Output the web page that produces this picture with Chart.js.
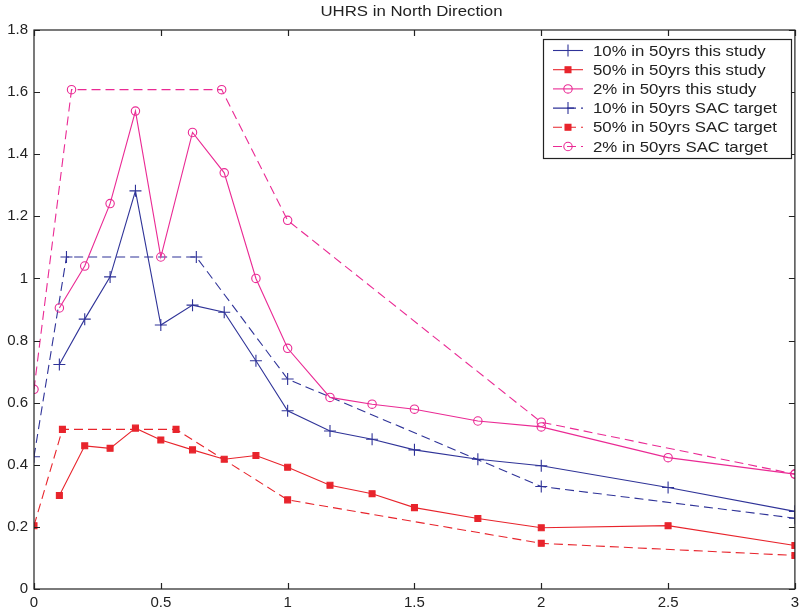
<!DOCTYPE html>
<html>
<head>
<meta charset="utf-8">
<script src="https://cdn.jsdelivr.net/npm/chart.js@4/dist/chart.umd.min.js"></script>
<style>
  html, body { margin: 0; padding: 0; background: #fff; }
  #wrap { width: 802px; height: 612px; }
</style>
</head>
<body>
<div id="wrap"><canvas id="c"></canvas></div>
<script>
// periods (s) and spectral accelerations (g)
const periodStudy = [0.1, 0.2, 0.3, 0.4, 0.5, 0.625, 0.75, 0.875, 1.0, 1.167, 1.333, 1.5, 1.75, 2.0, 2.5, 3.0];
const study10 = [0.723, 0.869, 1.005, 1.282, 0.850, 0.914, 0.891, 0.735, 0.574, 0.509, 0.482, 0.448, 0.418, 0.397, 0.327, 0.250];
const study50 = [0.301, 0.461, 0.453, 0.518, 0.480, 0.448, 0.418, 0.430, 0.392, 0.334, 0.307, 0.262, 0.227, 0.197, 0.204, 0.140];
const study2  = [0.905, 1.040, 1.241, 1.539, 1.069, 1.470, 1.340, 1.000, 0.775, 0.617, 0.595, 0.579, 0.541, 0.522, 0.423, 0.370];

const periodSac10 = [0, 0.128, 0.64, 1, 2, 3];
const sac10 = [0.426, 1.069, 1.069, 0.676, 0.330, 0.228];
const periodSac50 = [0, 0.112, 0.56, 1, 2, 3];
const sac50 = [0.204, 0.514, 0.514, 0.287, 0.147, 0.108];
const periodSac2 = [0, 0.148, 0.74, 1, 2, 3];
const sac2 = [0.643, 1.608, 1.608, 1.187, 0.537, 0.370];

const labels = [
  '10% in 50yrs this study', '50% in 50yrs this study', '2% in 50yrs this study',
  '10% in 50yrs SAC target', '50% in 50yrs SAC target', '2% in 50yrs SAC target'
];
const xTicks = [0, 0.5, 1, 1.5, 2, 2.5, 3];
const yTicks = [0, 0.2, 0.4, 0.6, 0.8, 1, 1.2, 1.4, 1.6, 1.8];

const BLUE = '#2f3398';
const RED = '#e8242c';
const PINK = '#ea2a94';
const FONT = '"Liberation Sans", Arial, sans-serif';

const pts = (xs, ys) => xs.map((x, i) => ({ x: x, y: ys[i] }));

function series(label, xs, ys, color, style, dashed) {
  return {
    label: label,
    data: pts(xs, ys),
    borderColor: color,
    borderWidth: 1.1,
    borderDash: dashed ? [9, 5] : [],
    pointStyle: style,
    pointBorderColor: color,
    pointBorderWidth: 1.1,
    pointBackgroundColor: style === 'rect' ? color : 'rgba(0,0,0,0)',
    pointRadius: style === 'cross' ? 6 : 4.2,
    pointHoverRadius: 0,
    tension: 0,
    fill: false
  };
}

// text a bit wider than the stock font, like the original export
function wideText(ctx, text, x, y, align) {
  const k = 1.12;
  ctx.save();
  ctx.translate(x, y);
  ctx.scale(k, 1);
  ctx.textAlign = align;
  ctx.fillText(text, 0, 0);
  ctx.restore();
}

// frame, inward ticks, title, boxed legend
const matlabLook = {
  id: 'matlabLook',
  afterDraw(chart) {
    const ctx = chart.ctx;
    const a = chart.chartArea;
    const sx = chart.scales.x, sy = chart.scales.y;
    ctx.save();
    ctx.strokeStyle = '#222';
    ctx.lineWidth = 1.2;
    ctx.setLineDash([]);
    ctx.strokeRect(a.left, a.top, a.right - a.left, a.bottom - a.top);
    ctx.beginPath();
    xTicks.forEach(v => {
      const px = Math.round(sx.getPixelForValue(v)) + 0.5;
      ctx.moveTo(px, a.bottom); ctx.lineTo(px, a.bottom - 6);
      ctx.moveTo(px, a.top); ctx.lineTo(px, a.top + 6);
    });
    yTicks.forEach(v => {
      const py = Math.round(sy.getPixelForValue(v)) + 0.5;
      ctx.moveTo(a.left, py); ctx.lineTo(a.left + 6, py);
      ctx.moveTo(a.right, py); ctx.lineTo(a.right - 6, py);
    });
    ctx.stroke();

    // title
    ctx.fillStyle = '#222';
    ctx.font = '15px ' + FONT;
    ctx.textBaseline = 'middle';
    wideText(ctx, 'UHRS in North Direction', (a.left + a.right) / 2 - 3, 12, 'center');

    // legend
    const bx = 543, by = 39, bw = 248, bh = 119, row = 19.2;
    ctx.fillStyle = '#fff';
    ctx.fillRect(bx, by, bw, bh);
    ctx.strokeStyle = '#222';
    ctx.lineWidth = 1.2;
    ctx.strokeRect(bx + 0.5, by + 0.5, bw, bh);
    chart.data.datasets.forEach((ds, i) => {
      const y = by + 11.5 + i * row;
      ctx.strokeStyle = ds.borderColor;
      ctx.lineWidth = 1.1;
      ctx.setLineDash(ds.borderDash);
      ctx.beginPath();
      ctx.moveTo(553, y); ctx.lineTo(583, y);
      ctx.stroke();
      ctx.setLineDash([]);
      ctx.fillStyle = ds.pointBackgroundColor;
      ctx.strokeStyle = ds.pointBorderColor;
      ctx.lineWidth = 1.1;
      Chart.helpers.drawPoint(ctx, {
        pointStyle: ds.pointStyle,
        radius: ds.pointRadius,
        borderWidth: 1.1,
        rotation: 0
      }, 568, y);
      ctx.fillStyle = '#222';
      ctx.font = '15px ' + FONT;
      ctx.textBaseline = 'middle';
      wideText(ctx, ds.label, 593, y + 1, 'left');
    });
    ctx.restore();
  }
};

const datasets = [
  series(labels[0], periodStudy, study10, BLUE, 'cross', false),
  series(labels[1], periodStudy, study50, RED, 'rect', false),
  series(labels[2], periodStudy, study2, PINK, 'circle', false),
  series(labels[3], periodSac10, sac10, BLUE, 'cross', true),
  series(labels[4], periodSac50, sac50, RED, 'rect', true),
  series(labels[5], periodSac2, sac2, PINK, 'circle', true)
];

new Chart(document.getElementById('c'), {
  type: 'line',
  data: { datasets: datasets },
  options: {
    responsive: true,
    maintainAspectRatio: false,
    animation: false,
    layout: { padding: { top: 30, right: 3, left: 0, bottom: 0 } },
    plugins: { legend: { display: false }, tooltip: { enabled: false }, title: { display: false } },
    scales: {
      x: {
        type: 'linear', min: 0, max: 3,
        afterBuildTicks: s => { s.ticks = xTicks.map(v => ({ value: v })); },
        afterFit: s => { s.height = 23; s.paddingLeft = 0; s.paddingRight = 0; },
        grid: { display: false, drawTicks: false },
        border: { display: false },
        ticks: { color: '#222', font: { family: FONT, size: 15 }, padding: 5, maxRotation: 0, autoSkip: false,
                 callback: v => String(+v.toFixed(1)) }
      },
      y: {
        type: 'linear', min: 0, max: 1.8,
        afterBuildTicks: s => { s.ticks = yTicks.map(v => ({ value: v })); },
        afterFit: s => { s.width = 34; s.paddingTop = 0; s.paddingBottom = 0; },
        grid: { display: false, drawTicks: false },
        border: { display: false },
        ticks: { color: '#222', font: { family: FONT, size: 15 }, padding: 6, autoSkip: false,
                 callback: v => String(+v.toFixed(1)) }
      }
    }
  },
  plugins: [matlabLook]
});
</script>
</body>
</html>
